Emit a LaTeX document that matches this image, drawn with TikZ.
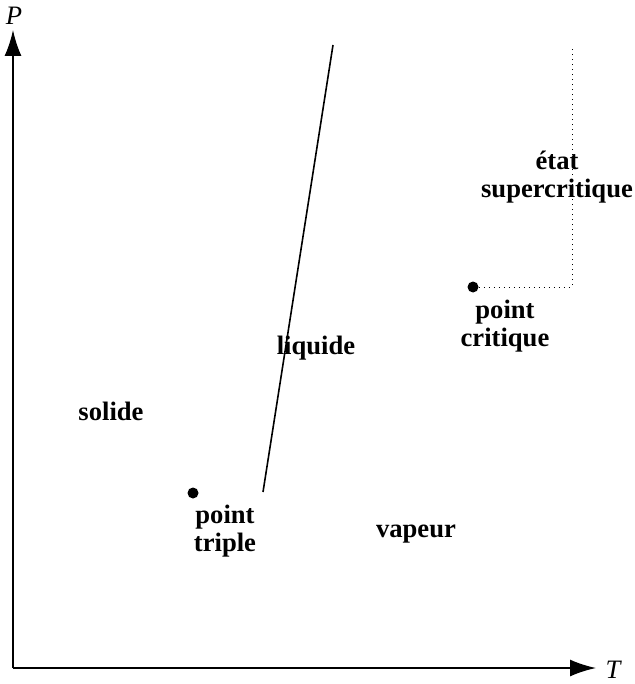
\documentclass[tikz,border=0pt]{standalone}
\usepackage{fontspec}
\setmainfont{Liberation Serif}
\usepackage{tikz}
\usetikzlibrary{arrows.meta, positioning, calc}
\tikzset{
    phaseLabel/.style={
        font=\fontsize{13.3}{14}\selectfont\bfseries,
        align=center,
        inner sep=0pt
    },
    axisLabel/.style={
        font=\fontsize{13.3}{14}\selectfont\itshape,
        inner sep=0pt
    },
    axisLine/.style={
        line width=0.9pt,
        -{Latex[length=13pt, width=8.5pt]}
    },
    curveLine/.style={
        line width=0.8pt
    },
    critLine/.style={
        line width=0.5pt,
        dotted
    },
    phaseDot/.style={
        circle,
        fill=black,
        inner sep=0pt,
        minimum size=5.5pt
    }
}

\begin{document}
\begin{tikzpicture}[x=0.5pt, y=-0.5pt]

        \useasboundingbox (0,0) rectangle (635,684);

        % Coordinate Definitions
        \coordinate (O) at (13, 668);     % Origin
        \coordinate (Pend) at (13, 30);   % Top of P axis
        \coordinate (Tend) at (596, 668); % End of T axis
        \coordinate (F1) at (263, 492);   % Bottom of fusion line
        \coordinate (F2) at (333, 45);    % Top of fusion line
        \coordinate (K1) at (572, 287);   % Corner of dotted line
        \coordinate (K2) at (572, 47);    % Top of dotted line

        % Axes
        \draw[axisLine] (O) -- (Pend);
        \draw[axisLine] (O) -- (Tend);
        \node[axisLabel] (P) at (14, 16) {P};
        \node[axisLabel] (T) at (613, 670) {T};

        % Fusion line
        \draw[curveLine] (F1) -- (F2);

        % Points
        \node[phaseDot] (triple) at (193, 493) {};
        \node[phaseDot] (crit) at (473, 287) {};

        % Supercritical boundary
        \draw[critLine] (crit) -- (K1) -- (K2);

        % Labels
        \node[phaseLabel] (tripleText) at (225, 531) {point\\triple};
        \node[phaseLabel] (critText) at (505, 326) {point\\critique};
        \node[phaseLabel] (superText) at (557, 177) {état\\supercritique};
        \node[phaseLabel] (liquide) at (316, 348) {liquide};
        \node[phaseLabel] (solide) at (111, 411) {solide};
        \node[phaseLabel] (vapeur) at (416, 534) {vapeur};

    \end{tikzpicture}
\end{document}
